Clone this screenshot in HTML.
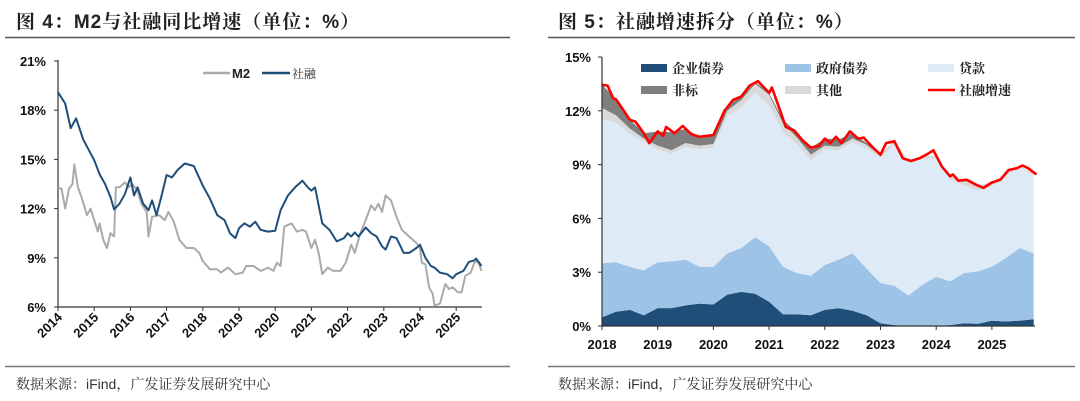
<!DOCTYPE html>
<html><head><meta charset="utf-8"><style>
body{margin:0;background:#fff;width:1080px;height:401px;overflow:hidden;font-family:"Liberation Sans","Noto Sans CJK SC",sans-serif}
svg{position:absolute;left:0;top:0}
</style></head><body>
<svg id="s" width="1080" height="401" font-family="'Liberation Sans','Noto Sans CJK SC',sans-serif">
<text x="16" y="28" font-size="19" font-weight="bold" letter-spacing="1" fill="#222" font-family="'Liberation Sans','Noto Serif CJK SC',serif">图 4：M2与社融同比增速（单位：%）</text>
<line x1="5" y1="37.5" x2="510" y2="37.5" stroke="#555" stroke-width="1.5"/>
<text x="558" y="28" font-size="19" font-weight="bold" letter-spacing="1" fill="#222" font-family="'Liberation Sans','Noto Serif CJK SC',serif">图 5：社融增速拆分（单位：%）</text>
<line x1="548" y1="37.5" x2="1075" y2="37.5" stroke="#555" stroke-width="1.5"/>
<line x1="5" y1="366.5" x2="510" y2="366.5" stroke="#777" stroke-width="1.5"/>
<line x1="548" y1="366.5" x2="1075" y2="366.5" stroke="#777" stroke-width="1.5"/>
<text x="16" y="389" font-size="14" fill="#333" font-family="'Liberation Sans','Noto Serif CJK SC',serif">数据来源：iFind，广发证券发展研究中心</text>
<text x="558" y="389" font-size="14" fill="#333" font-family="'Liberation Sans','Noto Serif CJK SC',serif">数据来源：iFind，广发证券发展研究中心</text>
<g id="L"></g><g id="R"></g>
</svg>
<script>
// ---- Left chart data ----
const tfDates=[2014.0,2014.2,2014.35,2014.5,2014.7,2015.0,2015.15,2015.3,2015.45,2015.55,2015.7,2015.85,2016.0,2016.1,2016.2,2016.35,2016.5,2016.6,2016.72,2016.85,2017.0,2017.15,2017.3,2017.5,2017.75,2018.0,2018.2,2018.4,2018.6,2018.75,2018.9,2019.0,2019.15,2019.3,2019.45,2019.6,2019.8,2020.0,2020.15,2020.35,2020.55,2020.75,2020.9,2021.0,2021.1,2021.3,2021.5,2021.7,2021.9,2022.0,2022.1,2022.2,2022.3,2022.5,2022.65,2022.8,2022.95,2023.05,2023.2,2023.35,2023.55,2023.7,2023.9,2024.0,2024.15,2024.3,2024.4,2024.55,2024.75,2024.9,2025.0,2025.2,2025.35,2025.5,2025.55,2025.7];
const tfValues=[19.1,18.4,16.9,17.5,16.2,14.95,14.1,13.5,12.7,11.95,12.3,12.9,13.9,12.8,13.3,12.3,11.9,12.5,11.6,12.7,14.05,13.9,14.35,14.75,14.6,13.4,12.6,11.6,11.3,10.5,10.2,10.8,11.1,10.9,11.2,10.7,10.6,10.65,11.9,12.8,13.3,13.7,13.3,13.1,13.3,11.1,10.7,10.0,10.2,10.5,10.3,10.55,10.3,10.85,10.5,10.3,9.7,9.5,10.3,10.2,9.3,9.3,9.6,9.8,9.0,8.5,8.4,8.1,8.0,7.75,8.0,8.2,8.75,8.85,8.95,8.5];
const m2Dates=[2014.0,2014.1,2014.2,2014.3,2014.4,2014.45,2014.55,2014.65,2014.8,2014.9,2015.0,2015.1,2015.15,2015.25,2015.35,2015.45,2015.55,2015.6,2015.7,2015.85,2015.95,2016.05,2016.2,2016.3,2016.45,2016.5,2016.6,2016.8,2016.95,2017.05,2017.2,2017.35,2017.55,2017.75,2017.9,2018.0,2018.2,2018.4,2018.5,2018.7,2018.9,2019.1,2019.2,2019.4,2019.6,2019.8,2019.95,2020.05,2020.15,2020.25,2020.45,2020.6,2020.75,2020.85,2021.0,2021.1,2021.2,2021.3,2021.45,2021.6,2021.8,2021.95,2022.1,2022.2,2022.35,2022.5,2022.65,2022.75,2022.85,2022.95,2023.05,2023.2,2023.35,2023.5,2023.7,2023.9,2024.0,2024.05,2024.15,2024.25,2024.35,2024.4,2024.55,2024.7,2024.8,2024.9,2025.05,2025.15,2025.25,2025.4,2025.5,2025.6,2025.7];
const m2Values=[13.3,13.2,12.0,13.2,13.5,14.7,13.3,12.7,11.6,12.0,11.3,10.6,11.1,10.1,9.6,10.5,10.3,13.3,13.3,13.6,13.3,13.5,13.1,12.3,11.8,10.3,11.5,11.6,11.3,11.8,11.2,10.1,9.6,9.6,9.3,8.8,8.3,8.3,8.1,8.4,8.0,8.1,8.5,8.5,8.2,8.4,8.2,8.7,8.5,10.9,11.1,10.6,10.7,10.6,9.6,10.1,9.3,8.0,8.4,8.2,8.2,8.7,9.8,9.3,10.5,11.3,12.2,11.9,12.3,11.8,12.8,12.5,11.5,10.7,10.3,9.9,9.6,8.7,8.6,7.2,6.8,6.1,6.2,7.4,7.1,7.2,6.9,6.9,7.9,8.1,8.7,8.8,8.2];
const leftYTicks=[6,9,12,15,18,21];
const leftYLabels=["6%","9%","12%","15%","18%","21%"];
const leftYears=[2014,2015,2016,2017,2018,2019,2020,2021,2022,2023,2024,2025];
// ---- Right chart data ----
const qDates=[2018,2018.25,2018.5,2018.75,2019,2019.25,2019.5,2019.75,2020,2020.25,2020.5,2020.75,2021,2021.25,2021.5,2021.75,2022,2022.25,2022.5,2022.75,2023,2023.25,2023.5,2023.75,2024,2024.25,2024.5,2024.75,2025,2025.25,2025.5,2025.75];
const corpBond=[0.48,0.8,0.9,0.6,1.0,1.0,1.15,1.25,1.2,1.75,1.9,1.8,1.35,0.65,0.65,0.6,0.9,1.0,0.85,0.6,0.15,0.05,0.02,0,0.02,0.05,0.15,0.12,0.3,0.25,0.3,0.38];
const govBond=[3.02,2.75,2.4,2.5,2.55,2.6,2.55,2.05,2.1,2.3,2.45,3.15,3.1,2.65,2.3,2.2,2.5,2.7,3.2,2.6,2.25,2.2,1.68,2.3,2.73,2.45,2.8,2.93,3.0,3.55,4.05,3.67];
const loans=[8.05,7.8,7.4,7.15,6.3,6.0,6.3,6.55,6.65,7.65,7.85,8.05,7.85,7.5,7.15,6.45,6.45,6.1,6.2,6.7,6.95,7.95,7.4,7.0,6.6,5.65,4.9,4.5,4.5,4.6,4.5,4.35];
const nonStd=[1.3,0.9,0.5,0.3,0.8,1.0,0.8,0.5,0.5,0.3,0.2,0.1,0.1,0.2,0.3,0.4,0.4,0.4,0.3,0.1,0.05,0,0,0,0,0,0,0,0,0,0,0];
const others=[0.6,0.4,0.3,0.2,0.2,0.2,0.2,0.2,0.2,0.3,0.4,0.5,0.6,0.5,0.4,0.3,0.2,0.2,0.2,0.2,0.15,0.1,0.15,0.15,0.15,0.2,0.3,0.3,0.2,0.1,0.05,0.1];
const tsfDates=[2018.0,2018.1,2018.2,2018.25,2018.5,2018.6,2018.75,2018.85,2019.0,2019.1,2019.15,2019.3,2019.45,2019.6,2019.75,2020.0,2020.2,2020.35,2020.5,2020.65,2020.8,2021.0,2021.05,2021.2,2021.3,2021.45,2021.6,2021.75,2021.9,2022.0,2022.1,2022.2,2022.3,2022.45,2022.6,2022.7,2022.85,2023.0,2023.1,2023.25,2023.4,2023.55,2023.7,2023.85,2023.95,2024.0,2024.1,2024.25,2024.3,2024.4,2024.55,2024.7,2024.85,2025.0,2025.15,2025.3,2025.45,2025.55,2025.65,2025.8];
const tsfGrowth=[13.45,13.4,12.7,12.65,11.5,11.4,10.75,10.2,10.85,10.6,11.1,10.75,11.15,10.7,10.55,10.65,12.0,12.6,12.8,13.4,13.65,13.0,13.3,12.0,11.1,10.9,10.35,9.95,10.05,10.45,10.2,10.55,10.2,10.85,10.45,10.5,10.0,9.55,10.2,10.3,9.35,9.2,9.35,9.6,9.8,9.5,8.9,8.35,8.45,8.1,8.15,7.9,7.7,8.0,8.15,8.7,8.8,8.95,8.8,8.45];
const rightYTicks=[0,3,6,9,12,15];
const rightYLabels=["0%","3%","6%","9%","12%","15%"];
const rightYears=[2018,2019,2020,2021,2022,2023,2024,2025];

const NS="http://www.w3.org/2000/svg";
function mk(p,tag,attrs){const e=document.createElementNS(NS,tag);for(const k in attrs)e.setAttribute(k,attrs[k]);p.appendChild(e);return e;}
function linePath(xs,ys,fx,fy){return xs.map((d,i)=>(i?"L":"M")+fx(d).toFixed(1)+","+fy(ys[i]).toFixed(1)).join("");}
const SERIF="'Liberation Sans','Noto Serif CJK SC',serif";

// Left chart
const L=document.getElementById("L");
const lx=t=>58+(t-2014)*36.2, ly=v=>307-(v-6)*(246/15);
let ax=mk(L,"path",{d:"M58,60V307H482",stroke:"#333","stroke-width":1.2,fill:"none"});


leftYTicks.forEach((v,i)=>{
  const tk=mk(L,"line",{x1:54,x2:58,y1:ly(v),y2:ly(v),stroke:"#333"});
  
  
  const t=mk(L,"text",{x:46,y:ly(v)+5,"text-anchor":"end","font-size":13,"font-weight":"bold",fill:"#111"});t.textContent=leftYLabels[i];
  
  
});
leftYears.forEach(y=>{
  const x=lx(y);
  const tk=mk(L,"line",{x1:x,x2:x,y1:307,y2:311,stroke:"#333"});
  
  
  const t=mk(L,"text",{x:x+5,y:318,"text-anchor":"end","font-size":13,"font-weight":"bold",fill:"#111",transform:`rotate(-45 ${x+5} 318)`});t.textContent=y;
  
  
});
let m2=mk(L,"path",{d:linePath(m2Dates,m2Values,lx,ly),stroke:"#aaaaaa","stroke-width":2,fill:"none","stroke-linejoin":"round"});


let tf=mk(L,"path",{d:linePath(tfDates,tfValues,lx,ly),stroke:"#1f4e79","stroke-width":2,fill:"none","stroke-linejoin":"round"});


let lg=mk(L,"line",{x1:203,x2:230,y1:73,y2:73,stroke:"#aaaaaa","stroke-width":2.5});


let lt=mk(L,"text",{x:232,y:78,"font-size":13,"font-weight":"bold",fill:"#222"});lt.textContent="M2";


lg=mk(L,"line",{x1:262,x2:290,y1:73,y2:73,stroke:"#1f4e79","stroke-width":2.5});


lt=mk(L,"text",{x:292,y:78,"font-size":12,fill:"#222","font-family":SERIF});lt.textContent="社融";



// Right chart
const R=document.getElementById("R");
const rx=t=>602+(t-2018)*55.7, ry=v=>326-v*(269/15);
const layers=[[corpBond,"#1f4e79","area-corp-bond"],[govBond,"#9dc3e6","area-gov-bond"],[loans,"#deebf7","area-loans"],[others,"#d9d9d9","area-other"],[nonStd,"#7f7f7f","area-non-standard"]];
let base=qDates.map(()=>0);
const paths=[];
layers.forEach(([arr,col,name])=>{
  const top=base.map((b,i)=>b+arr[i]);
  let d=qDates.map((t,i)=>(i?"L":"M")+rx(t).toFixed(1)+","+ry(top[i]).toFixed(1)).join("");
  for(let i=qDates.length-1;i>=0;i--)d+="L"+rx(qDates[i]).toFixed(1)+","+ry(base[i]).toFixed(1);
  paths.push([d+"Z",col,name]);base=top;
});
[paths[0],paths[1],paths[2],paths[4],paths[3]].forEach(([d,col,name])=>{
  const p=mk(R,"path",{d:d,fill:col,stroke:"none"});
  
  
});
let rl=mk(R,"path",{d:linePath(tsfDates,tsfGrowth,rx,ry),stroke:"#ff0000","stroke-width":2.6,fill:"none","stroke-linejoin":"round"});


let rax=mk(R,"path",{d:"M602,57V326H1035",stroke:"#333","stroke-width":1.2,fill:"none"});


rightYTicks.forEach((v,i)=>{
  const tk=mk(R,"line",{x1:598,x2:602,y1:ry(v),y2:ry(v),stroke:"#333"});
  
  
  const t=mk(R,"text",{x:591,y:ry(v)+5,"text-anchor":"end","font-size":13,"font-weight":"bold",fill:"#111"});t.textContent=rightYLabels[i];
  
  
});
rightYears.forEach(y=>{
  const x=rx(y);
  const tk=mk(R,"line",{x1:x,x2:x,y1:326,y2:330,stroke:"#333"});
  
  
  const t=mk(R,"text",{x:x,y:349,"text-anchor":"middle","font-size":13,"font-weight":"bold",fill:"#111"});t.textContent=y;
  
  
});
const legend=[[641,68,"rect","#1f4e79","企业债券","legend-corp-bond"],[785,68,"rect","#9dc3e6","政府债券","legend-gov-bond"],[928,68,"rect","#deebf7","贷款","legend-loans"],[641,90,"rect","#7f7f7f","非标","legend-non-standard"],[785,90,"rect","#d9d9d9","其他","legend-other"],[928,90,"line","#ff0000","社融增速","legend-tsf-growth"]];
legend.forEach(([x,y,kind,col,label,name])=>{
  const g=mk(R,"g",{});
  
  
  if(kind==="rect")mk(g,"rect",{x:x,y:y-4,width:26,height:8,fill:col});
  else mk(g,"line",{x1:x,x2:x+27,y1:y,y2:y,stroke:col,"stroke-width":2.6});
  const t=mk(g,"text",{x:x+31,y:y+5,"font-size":13,fill:"#222","font-family":SERIF,"font-weight":"bold"});t.textContent=label;
});
</script>
</body></html>
